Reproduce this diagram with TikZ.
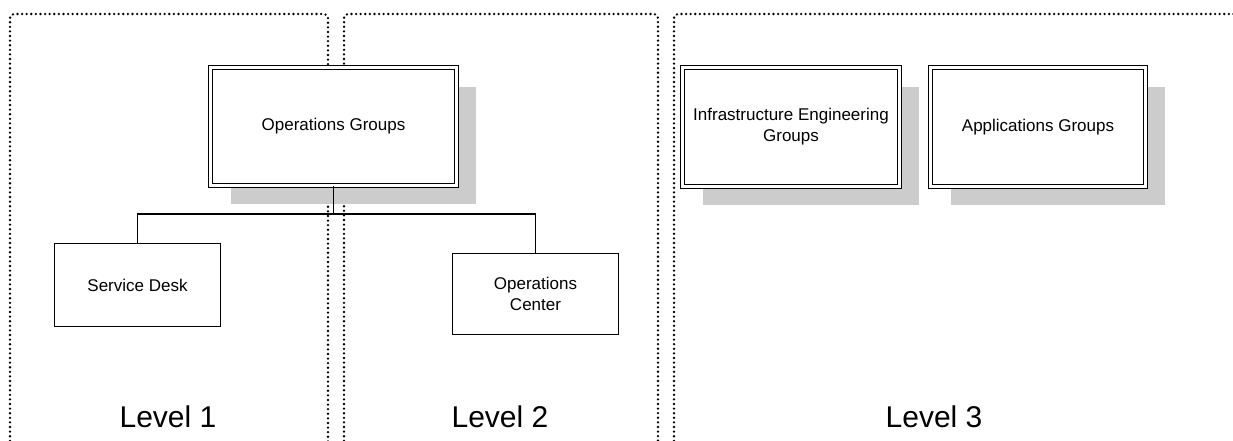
\documentclass[tikz,border=0pt]{standalone}
\usepackage{fontspec}
\setmainfont{Liberation Sans}
\usetikzlibrary{shadows}
\tikzset{
  zone/.style={line width=2.6pt, dash pattern=on 0pt off 4.6pt, line cap=round, rounded corners=4pt},
  boxtext/.style={font=\fontsize{17}{21}\selectfont, align=center},
  unitbox/.style={boxtext, draw, line width=1.3pt, fill=white, inner sep=0pt},
  groupbox/.style={boxtext, draw, line width=1.2pt, double=white, double distance=3pt,
    fill=white, inner sep=0pt,
    drop shadow={shadow xshift=20pt, shadow yshift=-19pt, fill=black!20, opacity=1}},
  leveltext/.style={font=\fontsize{30}{36}\selectfont, anchor=base},
  link/.style={line width=1.3pt}
}
\begin{document}
\begin{tikzpicture}[x=1pt, y=-1pt]
  \useasboundingbox (0,0) rectangle (1233,440);

  % dotted zone outlines
  \draw[zone] (10,450) -- (10,14) -- (328,14) -- (328,450);
  \draw[zone] (344,450) -- (344,14) -- (658,14) -- (658,450);
  \draw[zone] (674,450) -- (674,14) -- (1250,14);

  % group boxes
  \node[groupbox, minimum width=245.6pt, minimum height=117.6pt] (og) at (333.5,126.5) {Operations Groups};
  \node[groupbox, minimum width=216.6pt, minimum height=118.6pt] (ie) at (791,127) {Infrastructure Engineering\\Groups};
  \node[groupbox, minimum width=214.6pt, minimum height=118.6pt] (ag) at (1038,127) {Applications Groups};

  % unit boxes
  \node[unitbox, minimum width=165.7pt, minimum height=82.7pt] (sd) at (137.5,285) {Service Desk};
  \node[unitbox, minimum width=165.7pt, minimum height=80.7pt] (oc) at (535.5,294) {Operations\\Center};

  % reporting lines
  \coordinate (bus) at (333.5,214);
  \draw[link] (og.south) -- (bus);
  \draw[link] (bus) -| (sd.north);
  \draw[link] (bus) -| (oc.north);

  % level captions
  \node[leveltext] (l1) at (168,427) {Level 1};
  \node[leveltext] (l2) at (500,427) {Level 2};
  \node[leveltext] (l3) at (934,427) {Level 3};
\end{tikzpicture}
\end{document}
